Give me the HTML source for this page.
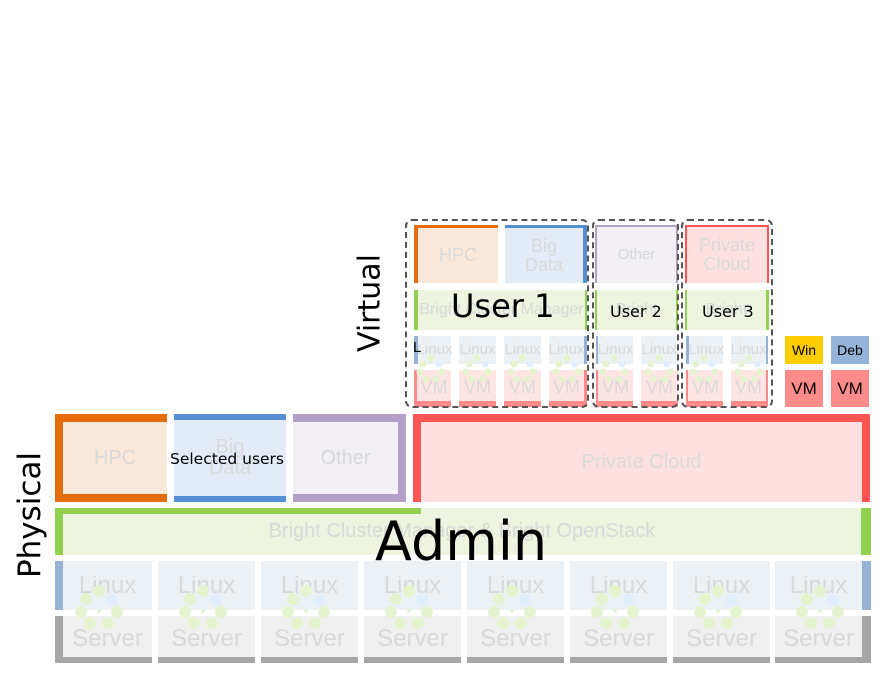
<!DOCTYPE html>
<html><head><meta charset="utf-8"><style>
body{margin:0;width:894px;height:677px;background:#fff;position:relative;overflow:hidden;font-family:"Liberation Sans",sans-serif}
.a{position:absolute;box-sizing:border-box}
.t{color:#d9d9d9;display:flex;align-items:center;justify-content:center;text-align:center;line-height:1.05}
.lx{background:#ecf1f6;font-size:24px;align-items:flex-start;padding-top:12px}
.sv{background:#f0f0f0;font-size:24px;padding-top:4px}
.vl{background:#ecf1f6;font-size:15px}
.vm{background:#ffe4e4;font-size:18px;border-bottom:6px solid #ff8a8a;padding-top:4px}
.dash{border:2.5px dashed #555;border-radius:7px}
.k{color:#000;font-family:"DejaVu Sans",sans-serif;white-space:nowrap}
</style></head><body>

<div class="a t" style="left:55px;top:414px;width:112px;height:88px;background:#fae9db;border:8px solid #e46c0a;border-right:none;font-size:20px">HPC</div>
<div class="a t" style="left:174px;top:414px;width:112px;height:88px;background:#e3ebf6;border-top:6px solid #568ed5;border-bottom:6px solid #568ed5;font-size:20px">Big<br>Data</div>
<div class="a t" style="left:293px;top:414px;width:113px;height:88px;background:#f2eff5;border:8px solid #b3a0c8;border-left:none;font-size:20px">Other</div>
<div class="a t" style="left:413px;top:414px;width:457px;height:88px;background:#fee0e0;border:8px solid #ff5555;border-bottom:none;font-size:20px">Private Cloud</div>

<div class="a t" style="left:55px;top:508px;width:816px;height:47px;background:#edf5e1;border-left:8px solid #92d050;border-right:10px solid #92d050;font-size:20px">Bright Cluster Manager &amp; Bright OpenStack</div>
<div class="a" style="left:55px;top:508px;width:366px;height:6px;background:#92d050"></div>

<div class="a t lx" style="left:55px;top:561px;width:97px;height:49px;border-left:8px solid #95b3d7">Linux</div>
<div class="a t lx" style="left:158px;top:561px;width:97px;height:49px">Linux</div>
<div class="a t lx" style="left:261px;top:561px;width:97px;height:49px">Linux</div>
<div class="a t lx" style="left:364px;top:561px;width:97px;height:49px">Linux</div>
<div class="a t lx" style="left:467px;top:561px;width:97px;height:49px">Linux</div>
<div class="a t lx" style="left:570px;top:561px;width:97px;height:49px">Linux</div>
<div class="a t lx" style="left:673px;top:561px;width:97px;height:49px">Linux</div>
<div class="a t lx" style="left:775px;top:561px;width:96px;height:49px;border-right:9px solid #95b3d7">Linux</div>

<div class="a t sv" style="left:55px;top:616px;width:97px;height:47px;border-left:8px solid #a6a6a6;border-bottom:6px solid #a6a6a6">Server</div>
<div class="a t sv" style="left:158px;top:616px;width:97px;height:47px;border-bottom:6px solid #a6a6a6">Server</div>
<div class="a t sv" style="left:261px;top:616px;width:97px;height:47px;border-bottom:6px solid #a6a6a6">Server</div>
<div class="a t sv" style="left:364px;top:616px;width:97px;height:47px;border-bottom:6px solid #a6a6a6">Server</div>
<div class="a t sv" style="left:467px;top:616px;width:97px;height:47px;border-bottom:6px solid #a6a6a6">Server</div>
<div class="a t sv" style="left:570px;top:616px;width:97px;height:47px;border-bottom:6px solid #a6a6a6">Server</div>
<div class="a t sv" style="left:673px;top:616px;width:97px;height:47px;border-bottom:6px solid #a6a6a6">Server</div>
<div class="a t sv" style="left:775px;top:616px;width:96px;height:47px;border-right:9px solid #a6a6a6;border-bottom:6px solid #a6a6a6">Server</div>

<div class="a t" style="left:414px;top:225px;width:84px;height:58px;background:#fae9db;border-left:4px solid #e46c0a;border-top:3px solid #e46c0a;font-size:18px">HPC</div>
<div class="a t" style="left:505px;top:225px;width:82px;height:58px;background:#e3ebf6;border-right:4px solid #568ed5;border-top:3px solid #568ed5;font-size:18px">Big<br>Data</div>
<div class="a t" style="left:595px;top:225px;width:83px;height:58px;background:#f2eff5;border:2px solid #b3a0c8;border-bottom:none;font-size:15px">Other</div>
<div class="a t" style="left:685px;top:225px;width:84px;height:58px;background:#fee0e0;border:2px solid #ff5555;border-bottom:none;font-size:18px">Private<br>Cloud</div>

<div class="a t" style="left:414px;top:290px;width:173px;height:40px;background:#edf5e1;border-left:4px solid #92d050;border-right:2px solid #92d050;font-size:16px">Bright Cluster Manager</div>
<div class="a t" style="left:595px;top:290px;width:83px;height:40px;background:#edf5e1;border-left:2px solid #92d050;border-right:2px solid #92d050;font-size:16px">Bright</div>
<div class="a t" style="left:685px;top:290px;width:84px;height:40px;background:#edf5e1;border-left:2px solid #92d050;border-right:3px solid #92d050;font-size:16px">Bright</div>

<div class="a t vl" style="left:414px;top:336px;width:37px;height:28px;border-left:4px solid #95b3d7">Linux</div>
<div class="a t vl" style="left:459px;top:336px;width:37px;height:28px">Linux</div>
<div class="a t vl" style="left:504px;top:336px;width:37px;height:28px">Linux</div>
<div class="a t vl" style="left:549px;top:336px;width:38px;height:28px;border-right:3px solid #95b3d7">Linux</div>
<div class="a t vl" style="left:596px;top:336px;width:37px;height:28px;border-left:2px solid #95b3d7">Linux</div>
<div class="a t vl" style="left:641px;top:336px;width:37px;height:28px">Linux</div>
<div class="a t vl" style="left:686px;top:336px;width:37px;height:28px;border-left:3px solid #95b3d7">Linux</div>
<div class="a t vl" style="left:731px;top:336px;width:37px;height:28px;border-right:2px solid #95b3d7">Linux</div>

<div class="a t vm" style="left:414px;top:370px;width:37px;height:37px;border-left:3px solid #ff8a8a">VM</div>
<div class="a t vm" style="left:459px;top:370px;width:37px;height:37px">VM</div>
<div class="a t vm" style="left:504px;top:370px;width:37px;height:37px">VM</div>
<div class="a t vm" style="left:549px;top:370px;width:38px;height:37px;border-right:3px solid #ff8a8a">VM</div>
<div class="a t vm" style="left:596px;top:370px;width:37px;height:37px;border-left:2px solid #ff8a8a">VM</div>
<div class="a t vm" style="left:641px;top:370px;width:37px;height:37px">VM</div>
<div class="a t vm" style="left:686px;top:370px;width:37px;height:37px;border-left:2px solid #ff8a8a">VM</div>
<div class="a t vm" style="left:731px;top:370px;width:37px;height:37px;border-right:2px solid #ff8a8a">VM</div>

<div class="a t" style="left:785px;top:336px;width:38px;height:28px;background:#ffcc00;color:#000;font-size:14px">Win</div>
<div class="a t" style="left:831px;top:336px;width:38px;height:28px;background:#95b3d7;color:#000;font-size:14px">Deb</div>
<div class="a t" style="left:785px;top:370px;width:38px;height:37px;background:#ff8b8b;color:#000;font-size:17px">VM</div>
<div class="a t" style="left:831px;top:370px;width:38px;height:37px;background:#ff8b8b;color:#000;font-size:17px">VM</div>

<svg class="a" style="left:0;top:0" width="894" height="677">
<defs>
<g id="fl" fill="#e6f3cf"><circle cx="0" cy="-15" r="6"/><circle cx="-13" cy="-7" r="6"/><circle cx="-18" cy="6" r="6"/><circle cx="18" cy="6" r="6"/><circle cx="-9" cy="17" r="6"/><circle cx="9" cy="17" r="6"/><circle cx="13" cy="-6" r="6" fill="#e2eefb"/><circle cx="0" cy="5" r="2"/></g>
<g id="fs" fill="#e6f3cf"><circle cx="0" cy="-10" r="3.5"/><circle cx="-8" cy="-4" r="3.5"/><circle cx="-11" cy="4" r="3.5"/><circle cx="11" cy="4" r="3.5"/><circle cx="-5" cy="11" r="3.5"/><circle cx="5" cy="11" r="3.5"/><circle cx="8" cy="-4" r="3.5" fill="#e2eefb"/></g>
</defs>
<use href="#fl" x="99" y="606"/><use href="#fl" x="203" y="606"/><use href="#fl" x="306" y="606"/><use href="#fl" x="409" y="606"/><use href="#fl" x="512" y="606"/><use href="#fl" x="615" y="606"/><use href="#fl" x="718" y="606"/><use href="#fl" x="820" y="606"/>
<use href="#fs" x="431" y="368"/><use href="#fs" x="477" y="368"/><use href="#fs" x="522" y="368"/><use href="#fs" x="567" y="368"/><use href="#fs" x="614" y="368"/><use href="#fs" x="659" y="368"/><use href="#fs" x="704" y="368"/><use href="#fs" x="749" y="368"/>
</svg>

<div class="a dash" style="left:405px;top:219px;width:184px;height:189px"></div>
<div class="a dash" style="left:592px;top:219px;width:87px;height:189px"></div>
<div class="a dash" style="left:681px;top:219px;width:92px;height:189px"></div>

<div class="a k" style="left:413px;top:339px;font-size:15px;font-family:'Liberation Sans',sans-serif">L</div>
<div class="a k" style="left:451px;top:287px;font-size:32px">User 1</div>
<div class="a k" style="left:610px;top:302px;font-size:16px">User 2</div>
<div class="a k" style="left:702px;top:302px;font-size:16px">User 3</div>
<div class="a k" style="left:170px;top:450px;font-size:15.5px">Selected users</div>
<div class="a k" style="left:375px;top:510px;font-size:54px">Admin</div>
<div class="a k" style="left:370px;top:303px;font-size:30px;transform:translate(-50%,-50%) rotate(-90deg)">Virtual</div>
<div class="a k" style="left:30px;top:515px;font-size:31px;transform:translate(-50%,-50%) rotate(-90deg)">Physical</div>
</body></html>
